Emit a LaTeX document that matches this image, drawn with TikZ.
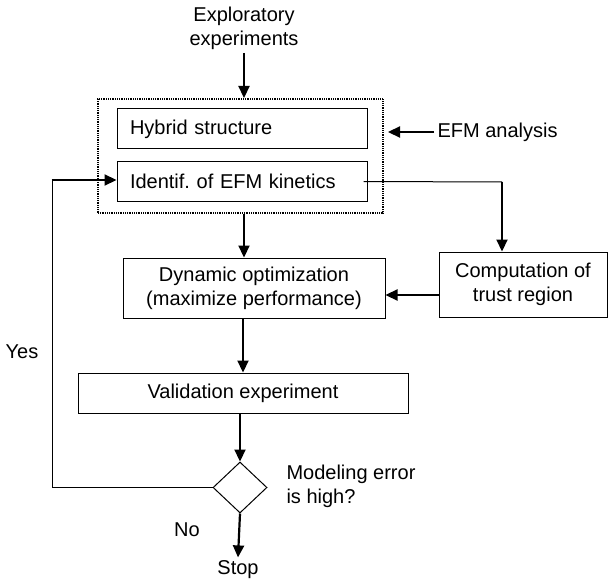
\documentclass[tikz,border=0pt]{standalone}
\usepackage{fontspec}
\setmainfont{Liberation Sans}
\usetikzlibrary{arrows.meta,positioning,calc,shapes.geometric}

\begin{document}
\begin{tikzpicture}[x=1pt,y=-1pt,
        font=\fontsize{20}{24}\selectfont,
        box/.style={draw,line width=1pt,inner sep=0pt,align=center},
        lbox/.style={box,minimum width=250,minimum height=40,inner xsep=13,text width=224,align=left},
        frm/.style={draw,line width=2pt,dash pattern=on 0.9pt off 0.9pt,minimum width=285,minimum height=114},
        dec/.style={draw,diamond,line width=1pt,minimum width=54,minimum height=51,inner sep=0pt},
        arr/.style={-{Triangle[length=12pt,width=11pt]},line width=2.2pt},
        thin/.style={line width=1pt}
      ]
        \useasboundingbox (0,0) rectangle (608,583);
        \node[align=center] (expl) at (244,28) {Exploratory\\experiments};
        \node[frm] (frame) at (240.5,156) {};
        \node[lbox] (hyb) at (242,129) {Hybrid structure};
        \node[lbox] (idf) at (242,181.5) {Identif.\ of EFM kinetics};
        \node[align=left,anchor=west] (efm) at (434,132) {EFM analysis};
        \node[box,minimum width=262,minimum height=60] (dyn) at (254,288) {Dynamic optimization\\(maximize performance)};
        \node[box,minimum width=168,minimum height=65] (comp) at (523,284.5) {Computation of\\trust region};
        \node[box,minimum width=330,minimum height=40] (val) at (243,393) {Validation experiment};
        \node[dec] (err) at (240,487.5) {};
        \node[align=left,anchor=west] (errlbl) at (283,486) {Modeling error\\is high?};
        \node (stop) at (238,570) {Stop};
        \node (yes) at (22,352) {Yes};
        \node (no) at (187,530) {No};
        \coordinate (turn) at (502,182);
        \coordinate (back) at (52,180);

        \draw[arr] (expl) -- (expl |- frame.north);
        \draw[arr] (efm.west) -- ([xshift=4pt]frame.east |- efm.west);
        \draw[arr] ([xshift=3.5pt]frame.south) -- ([xshift=3.5pt]frame.south |- dyn.north);
        \draw[thin] ([xshift=-4pt]idf.east) -- (turn);
        \draw[arr] (turn) -- (turn |- comp.north);
        \draw[arr] (comp.west |- 0,295) -- (dyn.east |- 0,295);
        \draw[arr] (val.north |- dyn.south) -- (val.north);
        \draw[arr] (err.north |- val.south) -- (err.north);
        \draw[thin] (err.west) -| (back);
        \draw[arr] ([xshift=-0.5pt]back) -- (back -| idf.west);
        \draw[arr] (err.south) -- (stop.north);
      \end{tikzpicture}
\end{document}
